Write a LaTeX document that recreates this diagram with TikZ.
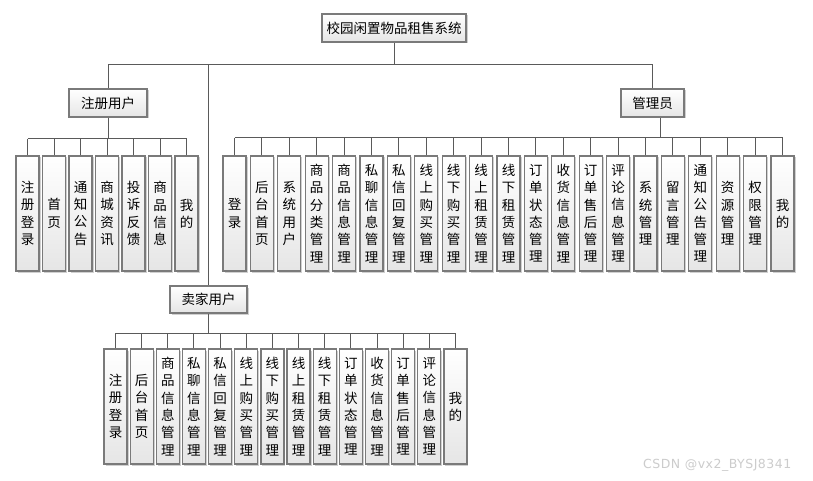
\documentclass[tikz,border=0pt]{standalone}
\usepackage{fontspec}
\newfontfamily\cjk{Noto Sans CJK SC}
\newfontfamily\wm[LetterSpace=4]{DejaVu Sans}
\usetikzlibrary{shadows}
\definecolor{boxline}{HTML}{7A7A7A}
\definecolor{conn}{HTML}{5A5A5A}
\tikzset{
  box/.style={draw=boxline, line width=1.3pt, top color=white, bottom color=black!10,
    inner sep=0pt, font=\cjk\fontsize{13.5}{17.3}\selectfont, align=center,
    drop shadow={shadow xshift=1.5pt, shadow yshift=-1.5pt, fill=black!30, opacity=0.6}},
  hbox/.style={box, minimum height=28pt},
  leaf/.style={box, minimum width=23pt, minimum height=115pt},
  wire/.style={draw=conn, line width=1pt},
}
\begin{document}
\begin{tikzpicture}[x=1pt,y=-1pt]
\useasboundingbox (0,0) rectangle (813,481);
\fill[white] (0,0) rectangle (813,481);
\coordinate (mb) at (0,65);
\coordinate (rb) at (0,139);
\coordinate (ab) at (0,138);
\coordinate (sb) at (0,333);

\node[hbox, minimum width=144pt] (top) at (394,28) {校园闲置物品租售系统};
\node[hbox, minimum width=78pt] (reg) at (108,103) {注册用户};
\node[hbox, minimum width=63pt] (adm) at (652.5,103) {管理员};
\node[hbox, minimum width=77pt, minimum height=27pt] (sel) at (208.5,299.5) {卖家用户};

% registered user leaves
\foreach \t [count=\i] in {{注\\册\\登\\录},{首\\页},{通\\知\\公\\告},{商\\城\\资\\讯},{投\\诉\\反\\馈},{商\\品\\信\\息},{我\\的}}
  \node[leaf] (r\i) at ({27.5+26.5*(\i-1)},213.5) {\t};

% admin leaves
\foreach \t [count=\i] in {{登\\录},{后\\台\\首\\页},{系\\统\\用\\户},{商\\品\\分\\类\\管\\理},{商\\品\\信\\息\\管\\理},{私\\聊\\信\\息\\管\\理},{私\\信\\回\\复\\管\\理},{线\\上\\购\\买\\管\\理},{线\\下\\购\\买\\管\\理},{线\\上\\租\\赁\\管\\理},{线\\下\\租\\赁\\管\\理},{订\\单\\状\\态\\管\\理},{收\\货\\信\\息\\管\\理},{订\\单\\售\\后\\管\\理},{评\\论\\信\\息\\管\\理},{系\\统\\管\\理},{留\\言\\管\\理},{通\\知\\公\\告\\管\\理},{资\\源\\管\\理},{权\\限\\管\\理},{我\\的}}
  \node[leaf] (a\i) at ({234.5+27.4*(\i-1)},213.5) {\t};

% seller leaves
\foreach \t [count=\i] in {{注\\册\\登\\录},{后\\台\\首\\页},{商\\品\\信\\息\\管\\理},{私\\聊\\信\\息\\管\\理},{私\\信\\回\\复\\管\\理},{线\\上\\购\\买\\管\\理},{线\\下\\购\\买\\管\\理},{线\\上\\租\\赁\\管\\理},{线\\下\\租\\赁\\管\\理},{订\\单\\状\\态\\管\\理},{收\\货\\信\\息\\管\\理},{订\\单\\售\\后\\管\\理},{评\\论\\信\\息\\管\\理},{我\\的}}
  \node[leaf] (s\i) at ({115.5+26.15*(\i-1)},406.5) {\t};

% main level
\draw[wire] (top.south) -- (top.south |- mb);
\draw[wire] (reg.north |- mb) -- (adm.north |- mb);
\draw[wire] (reg.north) -- (reg.north |- mb);
\draw[wire] (adm.north) -- (adm.north |- mb);
\draw[wire] (sel.north) -- (sel.north |- mb);

% registered user tree
\draw[wire] (reg.south) -- (reg.south |- rb);
\draw[wire] (r1.north |- rb) -- (r7.north |- rb);
\foreach \i in {1,...,7} \draw[wire] (r\i.north) -- (r\i.north |- rb);

% admin tree
\draw[wire] ([xshift=8pt]adm.south) -- ([xshift=8pt]adm.south |- ab);
\draw[wire] (a1.north |- ab) -- (a21.north |- ab);
\foreach \i in {1,...,21} \draw[wire] (a\i.north) -- (a\i.north |- ab);

% seller tree
\draw[wire] (sel.south) -- (sel.south |- sb);
\draw[wire] (s1.north |- sb) -- (s14.north |- sb);
\foreach \i in {1,...,14} \draw[wire] (s\i.north) -- (s\i.north |- sb);

\node[anchor=west, text=black!20, font=\wm\fontsize{12.5}{14}\selectfont, inner sep=0pt] (wmk) at (643,465.5) {CSDN @vx2\_BYSJ8341};
\end{tikzpicture}
\end{document}
